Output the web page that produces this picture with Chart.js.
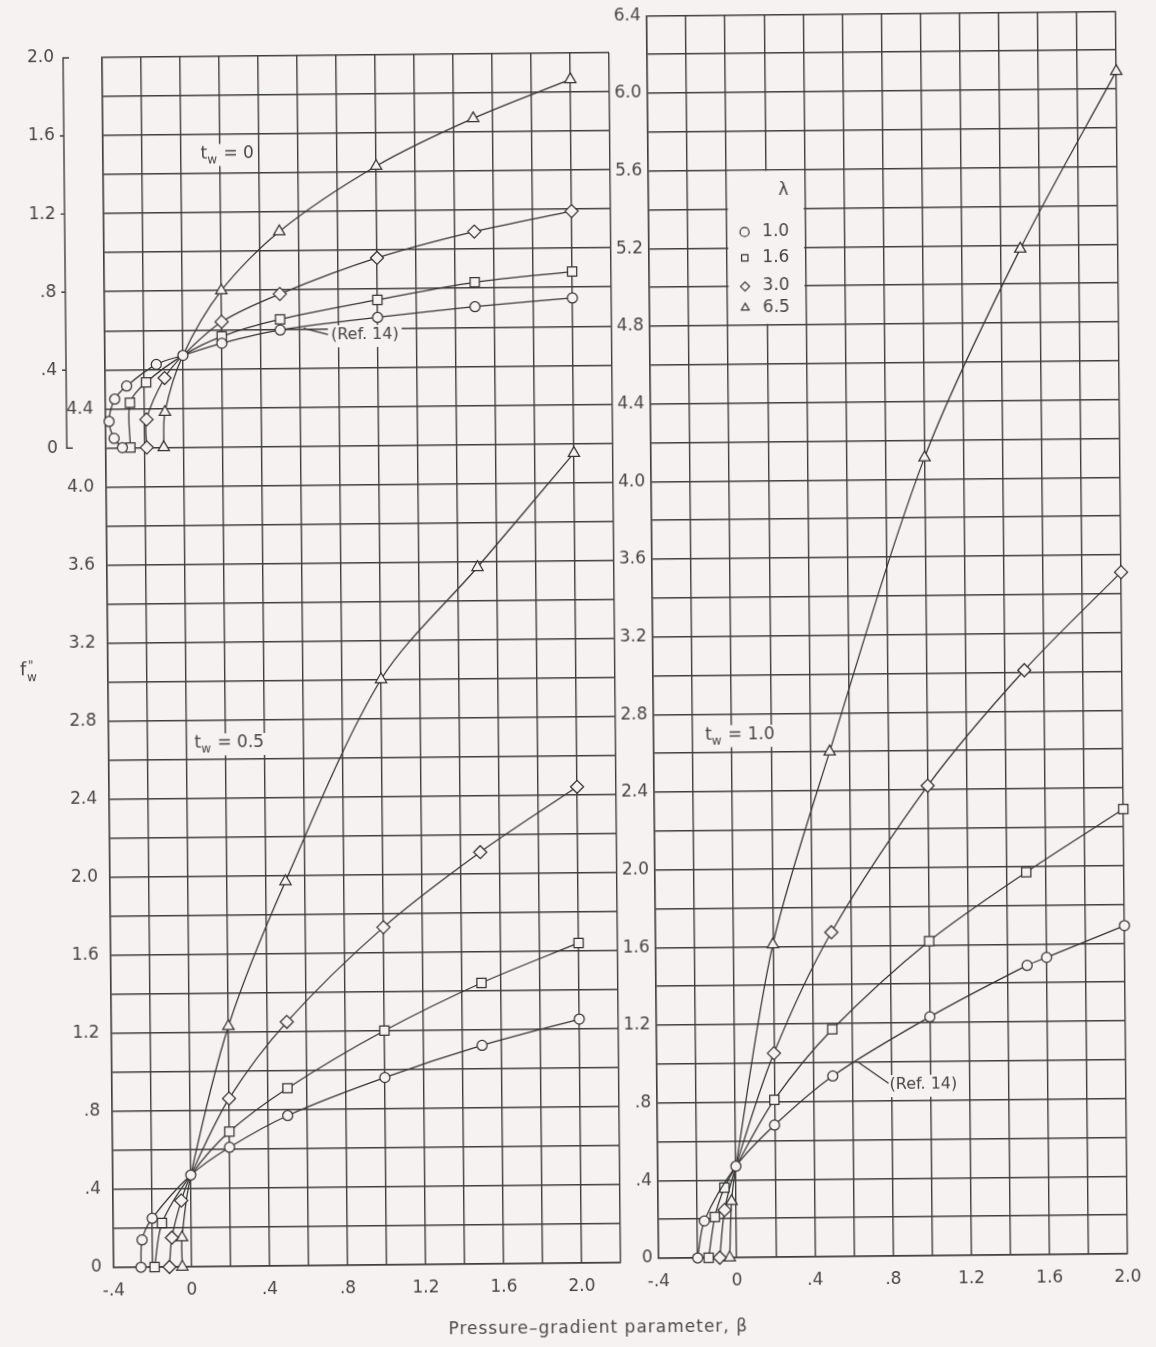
<!DOCTYPE html>
<html>
<head>
<meta charset="utf-8">
<title>Wall shear f''w versus pressure-gradient parameter</title>
<script src="https://cdn.jsdelivr.net/npm/chart.js@4.4.1/dist/chart.umd.min.js"></script>
<style>
  html, body { margin:0; padding:0; background:#f7f2f2; width:1156px; height:1347px; overflow:hidden; }
  #page { position:absolute; left:0; top:0; width:1156px; height:1347px; transform-origin:578px 673px; transform:rotate(-0.55deg); }
  #cl { position:absolute; left:0; top:0; }
  #cr { position:absolute; left:600px; top:0; }
  #xtitle { position:absolute; left:342px; top:1317px; width:500px; text-align:center; font:17px 'DejaVu Sans', sans-serif; letter-spacing:1px; color:#4a4a4a; }
</style>
</head>
<body>
<div id="page">
  <canvas id="cl" width="640" height="1347"></canvas>
  <canvas id="cr" width="556" height="1347"></canvas>
  <div id="xtitle">Pressure–gradient parameter, β</div>
</div>
<script>
// ---------------- data ----------------
const lambdaLabels = ['1.0', '1.6', '3.0', '6.5'];
const markerStyles = ['circle', 'rect', 'rectRot', 'triangle'];

// t_w = 0 (upper-left panel)
const tw0_lam10_beta = [-0.315, -0.357, -0.382, -0.352, -0.29, -0.137, 0, 0.2, 0.5, 1.0, 1.5, 2.0];
const tw0_lam10_f    = [0, 0.048, 0.135, 0.249, 0.316, 0.425, 0.47, 0.53, 0.595, 0.655, 0.705, 0.745];
const tw0_lam16_beta = [-0.274, -0.274, -0.19, 0, 0.2, 0.5, 1.0, 1.5, 2.0];
const tw0_lam16_f    = [0, 0.23, 0.333, 0.47, 0.565, 0.65, 0.745, 0.83, 0.88];
const tw0_lam30_beta = [-0.19, -0.19, -0.095, 0, 0.2, 0.5, 1.0, 1.5, 2.0];
const tw0_lam30_f    = [0, 0.143, 0.355, 0.47, 0.64, 0.78, 0.96, 1.09, 1.19];
const tw0_lam65_beta = [-0.103, -0.095, 0, 0.2, 0.5, 1.0, 1.5, 2.0];
const tw0_lam65_f    = [0, 0.18, 0.47, 0.80, 1.10, 1.43, 1.67, 1.865];

// t_w = 0.5 (lower-left panel)
const tw05_lam10_beta = [-0.26, -0.253, -0.20, 0, 0.2, 0.5, 1.0, 1.5, 2.0];
const tw05_lam10_f    = [0, 0.14, 0.25, 0.47, 0.61, 0.77, 0.96, 1.12, 1.25];
const tw05_lam16_beta = [-0.19, -0.15, 0, 0.2, 0.5, 1.0, 1.5, 2.0];
const tw05_lam16_f    = [0, 0.225, 0.47, 0.69, 0.91, 1.20, 1.44, 1.64];
const tw05_lam30_beta = [-0.114, -0.10, -0.05, 0, 0.2, 0.5, 1.0, 1.5, 2.0];
const tw05_lam30_f    = [0, 0.15, 0.34, 0.47, 0.86, 1.25, 1.73, 2.11, 2.44];
const tw05_lam65_beta = [-0.048, -0.048, 0, 0.2, 0.5, 1.0, 1.5, 2.0];
const tw05_lam65_f    = [0, 0.15, 0.47, 1.23, 1.97, 3.0, 3.57, 4.15];

// t_w = 1.0 (right panel)
const tw1_lam10_beta = [-0.2, -0.164, 0, 0.2, 0.5, 1.0, 1.5, 1.6, 2.0];
const tw1_lam10_f    = [0, 0.19, 0.47, 0.68, 0.93, 1.23, 1.49, 1.53, 1.69];
const tw1_lam16_beta = [-0.144, -0.11, -0.06, 0, 0.2, 0.5, 1.0, 1.5, 2.0];
const tw1_lam16_f    = [0, 0.21, 0.36, 0.47, 0.81, 1.17, 1.62, 1.97, 2.29];
const tw1_lam30_beta = [-0.087, -0.06, 0, 0.2, 0.5, 1.0, 1.5, 2.0];
const tw1_lam30_f    = [0, 0.245, 0.47, 1.05, 1.67, 2.42, 3.01, 3.51];
const tw1_lam65_beta = [-0.036, -0.024, 0, 0.2, 0.5, 1.0, 1.5, 2.0];
const tw1_lam65_f    = [0, 0.29, 0.47, 1.61, 2.60, 4.11, 5.18, 6.09];

// ---------------- styling ----------------
const INK = '#333333', GRID = '#3e3e3e', TEXT = '#464646', PAPER = '#f7f2f2';
const FONT = "'DejaVu Sans', sans-serif";
const RADIUS = { circle: 5, rect: 6.5, rectRot: 6.5, triangle: 6.5 };

function series(beta, f, k, axis) {
  const style = markerStyles[k];
  return {
    label: 'λ = ' + lambdaLabels[k],
    data: beta.map((b, i) => ({ x: b, y: f[i] })),
    xAxisID: 'x', yAxisID: axis,
    showLine: true, tension: 0.3, fill: false,
    borderColor: INK, borderWidth: 1.25,
    pointStyle: style,
    pointRadius: beta.map(b => (b === 0 && k !== 0) ? 0 : RADIUS[style]),
    pointHoverRadius: beta.map(b => (b === 0 && k !== 0) ? 0 : RADIUS[style]),
    pointBackgroundColor: PAPER, pointBorderColor: INK, pointBorderWidth: 1.25,
    clip: false
  };
}

function fmt(v) {
  const t = Math.round(v * 10);
  if (t === 0) return '0';
  let s = (Math.abs(t) / 10).toFixed(1);
  if (Math.abs(t) < 10) s = s.slice(1);
  return (t < 0 ? '-' : '') + s;
}
function labelIf(v, lo, hi) {
  const t = Math.round(v * 10);
  if (t % 4 !== 0 || t < lo * 10 - 0.01 || t > hi * 10 + 0.01) return '';
  return fmt(v);
}

// draws "main" + subscript + "rest"; returns total width
function drawSubText(ctx, x, y, main, sub, rest, size, measureOnly) {
  ctx.textBaseline = 'middle';
  ctx.textAlign = 'left';
  ctx.font = size + 'px ' + FONT;
  const w1 = ctx.measureText(main).width;
  ctx.font = Math.round(size * 0.7) + 'px ' + FONT;
  const w2 = ctx.measureText(sub).width + 1;
  ctx.font = size + 'px ' + FONT;
  const w3 = ctx.measureText(rest).width;
  if (!measureOnly) {
    ctx.fillText(main, x, y);
    ctx.font = Math.round(size * 0.7) + 'px ' + FONT;
    ctx.fillText(sub, x + w1, y + size * 0.35);
    ctx.font = size + 'px ' + FONT;
    ctx.fillText(rest, x + w1 + w2, y);
  }
  return w1 + w2 + w3;
}
function textWidth(ctx, t) {
  if (t.sub) return drawSubText(ctx, 0, 0, t.main, t.sub, t.rest, t.size || 17, true);
  ctx.font = (t.size || 17) + 'px ' + FONT;
  return ctx.measureText(t.text).width;
}

const notesPlugin = {
  id: 'notes',
  beforeDatasetsDraw(chart, args, opts) {
    const ctx = chart.ctx, xs = chart.scales.x;
    ctx.save();
    ctx.fillStyle = PAPER;
    (opts.blanks || []).forEach(b => {
      const ys = chart.scales[b.axis];
      const x1 = xs.getPixelForValue(b.x0), x2 = xs.getPixelForValue(b.x1);
      const y1 = ys.getPixelForValue(b.y1), y2 = ys.getPixelForValue(b.y0);
      ctx.fillRect(x1, y1, x2 - x1, y2 - y1);
    });
    // clear the paper behind each label, then write it
    (opts.texts || []).forEach(t => {
      const ys = chart.scales[t.axis];
      const px = xs.getPixelForValue(t.x), py = ys.getPixelForValue(t.y);
      const w = textWidth(ctx, t);
      ctx.fillStyle = PAPER;
      ctx.fillRect(px - 3, py - 10, w + 6, 22);
      ctx.fillStyle = TEXT;
      if (t.sub) {
        drawSubText(ctx, px, py, t.main, t.sub, t.rest, t.size || 17, false);
      } else {
        ctx.font = (t.size || 17) + 'px ' + FONT;
        ctx.textBaseline = 'middle'; ctx.textAlign = 'left';
        ctx.fillText(t.text, px, py);
      }
    });
    ctx.strokeStyle = INK; ctx.lineWidth = 1.2;
    (opts.leaders || []).forEach(l => {
      const ys = chart.scales[l.axis];
      ctx.beginPath();
      ctx.moveTo(xs.getPixelForValue(l.x0), ys.getPixelForValue(l.y0));
      ctx.lineTo(xs.getPixelForValue(l.x1), ys.getPixelForValue(l.y1));
      ctx.stroke();
    });
    ctx.restore();
  },
  afterDatasetsDraw(chart, args, opts) {
    const ctx = chart.ctx, xs = chart.scales.x;
    ctx.save();
    if (opts.legend) {
      const L = opts.legend, ys = chart.scales[L.axis];
      ctx.fillStyle = TEXT;
      ctx.font = '17px ' + FONT; ctx.textBaseline = 'middle'; ctx.textAlign = 'left';
      ctx.fillText('λ', xs.getPixelForValue(L.headX), ys.getPixelForValue(L.headY));
      L.rows.forEach((yv, k) => {
        const mx = xs.getPixelForValue(L.markX), my = ys.getPixelForValue(yv);
        ctx.fillStyle = PAPER; ctx.strokeStyle = INK; ctx.lineWidth = 1.2;
        Chart.helpers.drawPoint(ctx, { pointStyle: markerStyles[k], radius: 4.5, rotation: 0, borderWidth: 1.2 }, mx, my);
        ctx.fillStyle = TEXT;
        ctx.font = '17px ' + FONT;
        ctx.fillText(lambdaLabels[k], xs.getPixelForValue(L.textX), my);
      });
    }
    ctx.restore();
  },
  afterDraw(chart, args, opts) {
    const ctx = chart.ctx;
    ctx.save();
    ctx.strokeStyle = GRID; ctx.fillStyle = TEXT; ctx.lineWidth = 1.4;
    if (opts.bracket) {
      const yt = chart.scales[opts.bracket];
      const xb = yt.right;
      const p0 = yt.getPixelForValue(0), p2 = yt.getPixelForValue(2);
      ctx.beginPath();
      ctx.moveTo(xb + 6, p2); ctx.lineTo(xb, p2); ctx.lineTo(xb, p0); ctx.lineTo(xb + 6, p0);
      [0.4, 0.8, 1.2, 1.6].forEach(v => {
        const p = yt.getPixelForValue(v);
        ctx.moveTo(xb - 4, p); ctx.lineTo(xb, p);
      });
      ctx.stroke();
    }
    if (opts.ytitle) {
      const T = opts.ytitle;
      ctx.textBaseline = 'alphabetic'; ctx.textAlign = 'left';
      ctx.font = '18px ' + FONT;
      ctx.fillText('f', T.x, T.y);
      ctx.font = '12px ' + FONT;
      ctx.fillText('"', T.x + 8, T.y - 6);
      ctx.fillText('w', T.x + 7, T.y + 6);
    }
    ctx.restore();
  }
};

const tickFont = { family: FONT, size: 17 };

function xScale(min, max, maxLabel) {
  return {
    type: 'linear', min, max,
    afterFit: s => { s.height = 40; },
    grid: { color: GRID, lineWidth: 1.4, drawTicks: false },
    border: { display: true, color: GRID, width: 1.4 },
    ticks: { stepSize: 0.2, autoSkip: false, maxRotation: 0, padding: 13, color: TEXT, font: tickFont,
             callback: v => labelIf(v, -0.4, maxLabel) }
  };
}

// ---------------- left chart (t_w = 0 and t_w = 0.5) ----------------
new Chart(document.getElementById('cl'), {
  type: 'scatter',
  data: {
    datasets: [
      series(tw0_lam10_beta, tw0_lam10_f, 0, 'yTop'),
      series(tw0_lam16_beta, tw0_lam16_f, 1, 'yTop'),
      series(tw0_lam30_beta, tw0_lam30_f, 2, 'yTop'),
      series(tw0_lam65_beta, tw0_lam65_f, 3, 'yTop'),
      series(tw05_lam10_beta, tw05_lam10_f, 0, 'y'),
      series(tw05_lam16_beta, tw05_lam16_f, 1, 'y'),
      series(tw05_lam30_beta, tw05_lam30_f, 2, 'y'),
      series(tw05_lam65_beta, tw05_lam65_f, 3, 'y')
    ]
  },
  options: {
    responsive: false, animation: false, devicePixelRatio: 1,
    layout: { padding: { left: 0, top: 53, right: 25, bottom: 44 } },
    plugins: {
      legend: { display: false }, tooltip: { enabled: false },
      notes: {
        texts: [
          { axis: 'yTop', x: 0.10, y: 1.50, main: 't', sub: 'w', rest: ' = 0' },
          { axis: 'y', x: 0.04, y: 2.68, main: 't', sub: 'w', rest: ' = 0.5' },
          { axis: 'yTop', x: 0.76, y: 0.565, text: '(Ref. 14)', size: 16 }
        ],
        leaders: [ { axis: 'yTop', x0: 0.62, y0: 0.603, x1: 0.745, y1: 0.57 } ],
        bracket: 'yTop',
        ytitle: { x: 20, y: 670 }
      }
    },
    scales: {
      x: xScale(-0.4, 2.2, 2.0),
      y: {
        type: 'linear', position: 'left', weight: 0, min: 0, max: 6.2,
        afterFit: s => { s.width = 39; },
        grid: { color: GRID, lineWidth: 1.4, drawTicks: false },
        border: { display: true, color: GRID, width: 1.4 },
        ticks: { stepSize: 0.2, autoSkip: false, padding: 12, color: TEXT, font: tickFont,
                 callback: v => labelIf(v, 0, 4.4) }
      },
      yTop: {
        type: 'linear', position: 'left', weight: 1, min: -4.2, max: 2.0,
        afterFit: s => { s.width = 69; },
        grid: { display: false, drawTicks: false },
        border: { display: false },
        ticks: { stepSize: 0.2, autoSkip: false, padding: 9, color: TEXT, font: tickFont,
                 callback: v => labelIf(v, 0, 2.0) }
      }
    }
  },
  plugins: [notesPlugin]
});

// ---------------- right chart (t_w = 1.0) ----------------
new Chart(document.getElementById('cr'), {
  type: 'scatter',
  data: {
    datasets: [
      series(tw1_lam10_beta, tw1_lam10_f, 0, 'y'),
      series(tw1_lam16_beta, tw1_lam16_f, 1, 'y'),
      series(tw1_lam30_beta, tw1_lam30_f, 2, 'y'),
      series(tw1_lam65_beta, tw1_lam65_f, 3, 'y')
    ]
  },
  options: {
    responsive: false, animation: false, devicePixelRatio: 1,
    layout: { padding: { left: 0, top: 14, right: 34, bottom: 48 } },
    plugins: {
      legend: { display: false }, tooltip: { enabled: false },
      notes: {
        blanks: [ { axis: 'y', x0: 0.006, x1: 0.394, y0: 4.806, y1: 5.594 } ],
        texts: [
          { axis: 'y', x: -0.137, y: 2.69, main: 't', sub: 'w', rest: ' = 1.0' },
          { axis: 'y', x: 0.79, y: 0.88, text: '(Ref. 14)', size: 16 }
        ],
        leaders: [ { axis: 'y', x0: 0.63, y0: 1.0, x1: 0.785, y1: 0.89 } ],
        legend: { axis: 'y', headX: 0.265, headY: 5.49, markX: 0.09, textX: 0.18, rows: [5.28, 5.147, 5.0, 4.89] }
      }
    },
    scales: {
      x: xScale(-0.4, 2.0, 2.0),
      y: {
        type: 'linear', position: 'left', min: 0, max: 6.4,
        afterFit: s => { s.width = 53; },
        grid: { color: GRID, lineWidth: 1.4, drawTicks: false },
        border: { display: true, color: GRID, width: 1.4 },
        ticks: { stepSize: 0.2, autoSkip: false, padding: 6, color: TEXT, font: tickFont,
                 callback: v => labelIf(v, 0, 6.4) }
      }
    }
  },
  plugins: [notesPlugin]
});
</script>
</body>
</html>
